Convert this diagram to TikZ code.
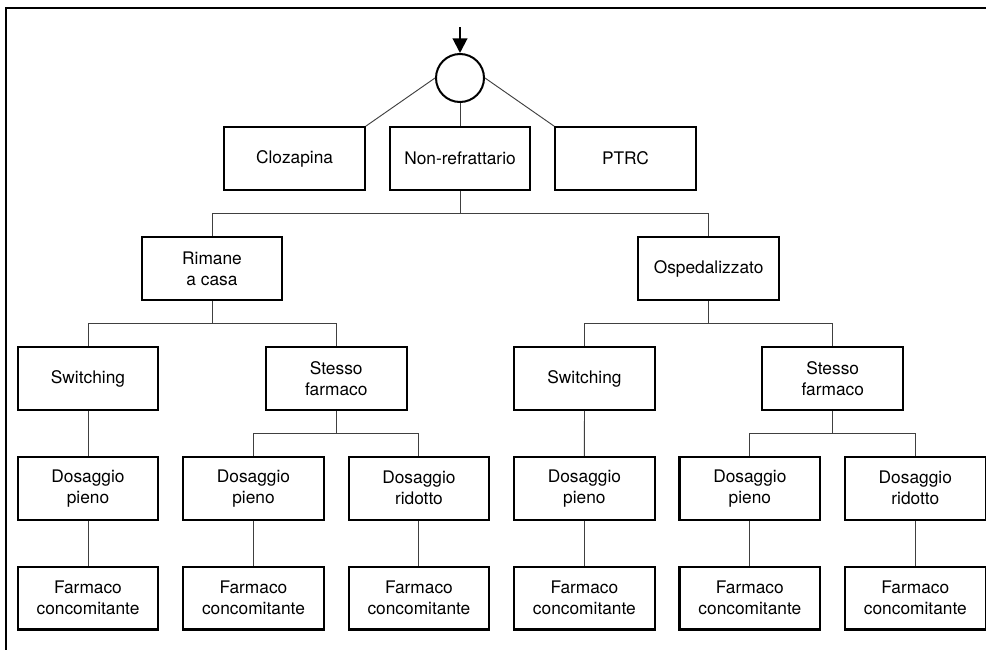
\documentclass[tikz,border=0pt]{standalone}
\usepackage{fontspec}
\setmainfont{TeX Gyre Heros}
\usetikzlibrary{positioning,arrows.meta}

\begin{document}
\begin{tikzpicture}[
  x=0.75pt, y=-0.75pt,
  node distance=33.75pt and 17pt,
  box/.style={draw, line width=1.6pt, minimum width=105.5pt, minimum height=47pt,
              inner sep=2pt, align=center, font=\fontsize{13}{15.75}\selectfont},
  hub/.style={draw, circle, line width=1.5pt, minimum size=36pt, inner sep=0pt},
  link/.style={line width=0.7pt, draw=black!75},
  arr/.style={-{Triangle[length=11pt, width=11pt]}, line width=1.5pt},
]
\useasboundingbox (0,0) rectangle (986,650);
\clip (0,0) rectangle (986,650);

% frame
\draw[line width=1.5pt] (6,700) -- (6,8) -- (1000,8);

% Row 1 — entry point
\coordinate (entry) at (460,27);
\node[hub] (root) at (460,78) {};
\node[box] (nonref) at (460,158.5) {Non-refrattario};
\node[box, left=of nonref] (cloz) {Clozapina};
\node[box, right=of nonref] (ptrc) {PTRC};

% Row 2 — setting
\node[box] (casa) at (212,268.5) {Rimane\\a casa};
\node[box] (osped) at (708.6,268.5) {Ospedalizzato};

% Row 3 — strategy
\node[box] (switchL) at (88,378.5) {Switching};
\node[box] (stessoL) at (336.25,378.5) {Stesso\\farmaco};
\node[box] (switchR) at (584.5,378.5) {Switching};
\node[box] (stessoR) at (832.75,378.5) {Stesso\\farmaco};

% Row 4 — dose
\node[box, below=of switchL] (pienoA) {Dosaggio\\pieno};
\node[box, right=of pienoA] (pienoB) {Dosaggio\\pieno};
\node[box, right=of pienoB] (ridB) {Dosaggio\\ridotto};
\node[box, right=of ridB] (pienoC) {Dosaggio\\pieno};
\node[box, right=of pienoC] (pienoD) {Dosaggio\\pieno};
\node[box, right=of pienoD] (ridD) {Dosaggio\\ridotto};

% Row 5 — add-on
\foreach \d in {pienoA,pienoB,ridB,pienoC,pienoD,ridD} {
  \node[box, below=of \d] (farm-\d) {Farmaco\\concomitante};
  \draw[link] (\d) -- (farm-\d);
}

% Connections
\draw[arr] (entry) -- (root);
\draw[link] (root.west) -- (cloz.north east);
\draw[link] (root.east) -- (ptrc.north west);
\draw[link] (root) -- (nonref);
\foreach \p/\a/\b in {nonref/casa/osped, casa/switchL/stessoL, osped/switchR/stessoR,
                      stessoL/pienoB/ridB, stessoR/pienoD/ridD} {
  \draw[link] (\p.south) -- ++(0,22.5) -| (\a.north);
  \draw[link] (\p.south) -- ++(0,22.5) -| (\b.north);
}
\draw[link] (switchL) -- (pienoA);
\draw[link] (switchR) -- (pienoC);
\end{tikzpicture}
\end{document}
